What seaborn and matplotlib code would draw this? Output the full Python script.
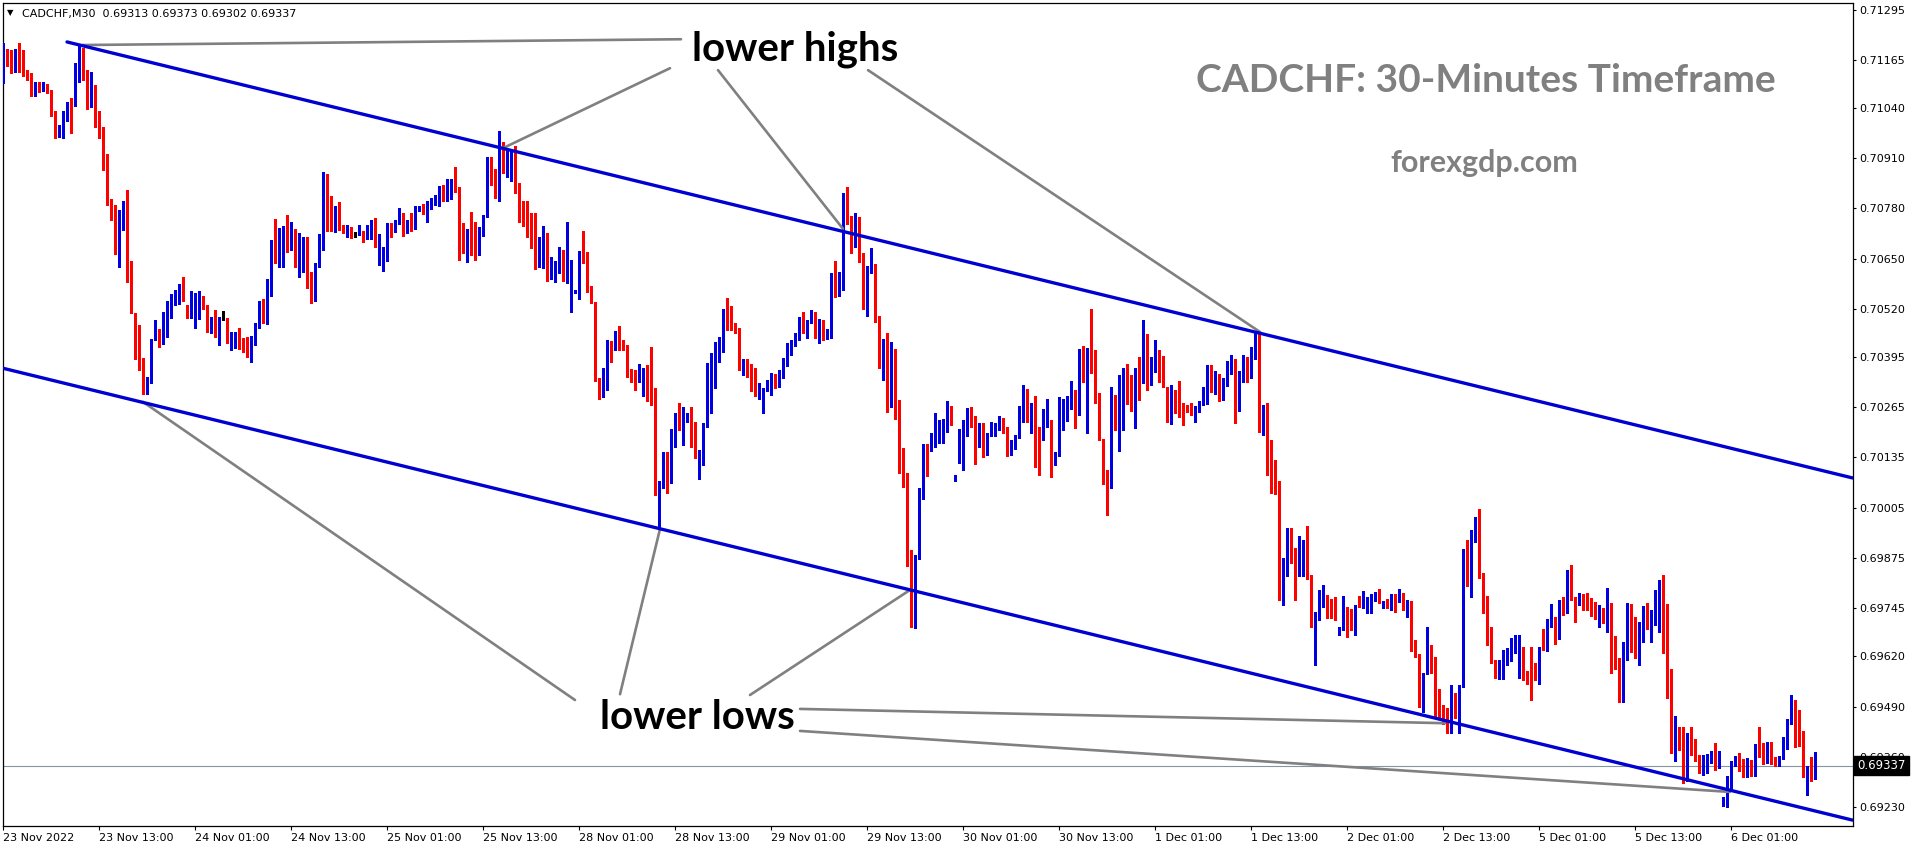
import numpy as np
import pandas as pd
import matplotlib
matplotlib.use("Agg")
import matplotlib.pyplot as plt
import seaborn as sns

# ---------------- data (prices in points = 1e-5 above 0.69000) ----------------
BASE = 0.69
opens = [
 2151,2192,2173,2138,2175,2173,2138,2125,2074,2106, 2090,2096,2084,2028,1966,1987,2019,2056,2048,2118,
 2167,2119,2054,2097,1997,1970,1921,1787,1787,1707, 1770,1780,1610,1508,1433,1392,1301,1338,1441,1465,
 1444,1481,1502,1534,1540,1582,1530,1515,1510,1514, 1541,1527,1470,1496,1448,1493,1496,1420,1420,1450,
 1441,1418,1401,1448,1471,1527,1485,1567,1677,1655, 1677,1727,1672,1714,1640,1645,1698,1582,1545,1631,
 1683,1867,1799,1741,1783,1733,1717,1730,1714,1714, 1720,1702,1704,1719,1655,1619,1672,1739,1733,1741,
 1750,1724,1750,1737,1779,1782,1774,1789,1793,1806, 1838,1810,1835,1841,1835,1724,1683,1724,1717,1659,
 1724,1760,1912,1879,1817,1921,1873,1903,1923,1834, 1778,1759,1743,1685,1629,1697,1714,1608,1623,1627,
 1672,1601,1513,1560,1608,1662,1642,1571,1538,1336, 1293,1310,1435,1418,1450,1429,1424,1349,1344,1334,
 1357,1362,1360,1314,1040,1055,1107,1070,1165,1234, 1215,1232,1245,1193,1133,1131,1213,1325,1340,1426,
 1446,1504,1491,1476,1470,1363,1366,1351,1317,1303, 1280,1310,1312,1349,1340,1349,1374,1413,1435,1446,
 1495,1463,1486,1510,1450,1491,1448,1452,1586,1556, 1577,1815,1741,1731,1739,1664,1521,1627,1636,1491,
 1381,1426,1293,1398,1248,1156,1087,865,710,877, 1033,1163,1154,1165,1202,1204,1211,1268,1080,1127,
 1170,1206,1264,1219,1165,1215,1155,1194,1202,1208, 1221,1211,1142,1168,1185,1262,1288,1251,1267,1211,
 1183,1215,1225,1127,1148,1208,1249,1262,1300,1256, 1381,1369,1405,1381,1284,1182,1075,1061,1297,1232,
 1230,1331,1323,1258,1355,1329,1383,1323,1359,1394, 1351,1318,1232,1297,1294,1271,1267,1262,1241,1256,
 1273,1275,1363,1320,1345,1300,1330,1365,1380,1267, 1340,1380,1350,1400,1450,1200,1270,1110,1072,1064,
 825,837,937,878,835,857,922,826,701,723, 751,775,756,749,689,693,749,727,690,753,
 749,768,739,769,777,762,764,749,779,764, 782,748,764,657,624,499,575,647,602,494,
 483,457,447,503,494,563,844,811,928,963, 825,751,656,607,581,602,605,613,637,634,
 645,582,582,580,567,643,635,699,710,676, 764,753,827,768,762,779,756,751,730,719,
 740,707,759,635,615,516,612,713,671,634, 690,751,695,704,766,811,719,541,412,436,
 427,311,416,388,352,335,342,356,373,343, 233,270,278,345,352,345,309,324,313,391,
 387,345,388,350,345,357,405,448,507,451, 428,322,328,313]
highs = [
 2207,2192,2190,2192,2207,2190,2138,2130,2108,2106, 2108,2102,2087,2031,1996,2031,2056,2065,2157,2203,
 2195,2138,2134,2100,2031,1990,1921,1804,1789,1776, 1798,1828,1645,1510,1478,1392,1344,1441,1491,1467,
 1513,1541,1558,1569,1584,1603,1530,1567,1562,1565, 1553,1530,1498,1517,1498,1515,1496,1461,1461,1470,
 1444,1448,1450,1483,1541,1545,1597,1698,1752,1729, 1735,1763,1744,1726,1716,1707,1707,1616,1638,1714,
 1873,1869,1811,1785,1797,1737,1737,1733,1720,1737, 1722,1737,1750,1756,1714,1681,1741,1741,1750,1782,
 1767,1750,1767,1785,1786,1791,1799,1808,1815,1838, 1841,1855,1855,1886,1836,1743,1726,1771,1746,1731,
 1763,1914,1914,1882,1980,1952,1931,1931,1942,1845, 1800,1799,1769,1767,1707,1735,1716,1655,1645,1679,
 1672,1744,1646,1569,1670,1722,1666,1579,1538,1340, 1366,1439,1437,1463,1476,1439,1426,1363,1362,1377,
 1366,1375,1422,1314,1073,1148,1150,1208,1251,1277, 1265,1249,1267,1228,1154,1224,1379,1405,1435,1448,
 1519,1547,1527,1484,1471,1389,1389,1377,1368,1327, 1314,1336,1353,1351,1362,1392,1432,1439,1458,1498,
 1513,1491,1517,1513,1493,1491,1469,1612,1645,1616, 1819,1835,1760,1769,1757,1665,1631,1677,1636,1501,
 1441,1458,1435,1415,1284,1159,1094,896,883,1055, 1170,1170,1199,1251,1232,1234,1280,1268,1090,1208,
 1232,1262,1267,1243,1224,1225,1199,1228,1225,1243, 1237,1213,1180,1193,1268,1323,1312,1277,1293,1215,
 1260,1286,1232,1150,1291,1286,1294,1334,1310,1415, 1424,1418,1519,1413,1301,1182,1103,1317,1297,1349,
 1366,1377,1349,1366,1396,1491,1455,1394,1438,1413, 1398,1318,1323,1310,1334,1277,1271,1275,1268,1282,
 1318,1375,1375,1360,1350,1340,1385,1400,1390,1360, 1400,1395,1420,1462,1460,1270,1275,1180,1129,1073,
 874,952,952,900,932,922,958,831,736,792, 805,779,768,775,695,777,749,742,753,777,
 789,775,781,788,794,764,768,782,781,794, 783,766,764,663,626,576,695,650,618,535,
 494,486,546,526,546,897,922,947,980,1001, 835,777,695,611,611,637,641,667,676,676,
 645,582,644,604,645,690,716,756,721,766, 773,844,857,775,783,782,785,770,762,753,
 745,798,759,673,615,658,759,756,721,710, 751,757,740,792,818,831,756,587,466,438,
 438,421,438,405,365,365,367,376,397,376, 257,311,350,362,369,354,356,352,393,438,
 397,399,399,359,362,412,457,520,507,481, 428,336,360,373]
lows = [
 2104,2149,2130,2132,2134,2123,2113,2071,2071,2081, 2085,2078,2019,1963,1966,1962,2005,1976,2045,2108,
 2113,2037,2042,1990,1962,1880,1789,1750,1662,1628, 1724,1590,1510,1389,1362,1300,1300,1327,1439,1420,
 1429,1446,1496,1530,1533,1541,1496,1496,1470,1493, 1519,1461,1458,1446,1426,1491,1431,1414,1418,1415,
 1409,1394,1381,1426,1470,1483,1481,1553,1638,1629, 1628,1668,1671,1627,1603,1616,1573,1534,1539,1629,
 1672,1722,1722,1720,1724,1717,1705,1703,1707,1711, 1694,1700,1702,1681,1634,1619,1645,1707,1720,1740,
 1709,1717,1722,1726,1774,1766,1746,1779,1789,1786, 1800,1800,1805,1823,1646,1665,1640,1659,1646,1659,
 1709,1759,1841,1806,1800,1871,1861,1852,1819,1746, 1735,1707,1677,1623,1628,1625,1593,1596,1590,1614,
 1593,1586,1513,1560,1545,1638,1564,1534,1334,1286, 1291,1310,1381,1413,1413,1413,1343,1331,1310,1331,
 1294,1280,1271,1038,952,1055,1042,1068,1163,1206, 1167,1228,1161,1133,1079,1116,1213,1251,1314,1383,
 1409,1465,1465,1457,1362,1349,1344,1306,1293,1286, 1249,1306,1297,1314,1317,1340,1372,1400,1424,1439,
 1457,1444,1484,1444,1432,1439,1441,1444,1550,1553, 1569,1740,1665,1679,1640,1519,1501,1614,1487,1366,
 1336,1254,1267,1234,1094,1058,854,695,693,871, 1027,1087,1153,1163,1172,1172,1202,1219,1075,1122,
 1103,1191,1213,1118,1161,1136,1142,1191,1191,1205, 1199,1139,1142,1156,1185,1228,1228,1198,1111,1090,
 1180,1213,1085,1116,1139,1206,1230,1260,1211,1245, 1331,1198,1355,1277,1180,1066,986,1055,1205,1153,
 1205,1274,1256,1211,1284,1327,1310,1323,1357,1331, 1317,1228,1222,1251,1241,1219,1254,1245,1228,1254,
 1271,1274,1305,1300,1280,1285,1320,1350,1225,1255, 1330,1330,1340,1390,1200,1193,1090,1042,1041,766,
 753,827,861,766,828,828,820,697,598,714, 749,719,719,714,676,689,670,689,676,747,
 745,732,732,764,758,745,745,739,736,762, 739,723,635,618,490,477,575,576,466,460,
 445,421,421,460,421,540,802,775,917,822, 732,650,604,563,561,561,598,609,628,563,
 559,549,506,559,549,637,634,697,652,664, 727,733,766,710,753,740,740,725,716,695,
 707,684,576,587,503,503,611,632,615,598, 656,690,658,701,684,628,512,369,350,378,
 293,298,365,350,317,313,317,345,326,330, 233,231,276,335,324,307,307,310,310,359,
 342,343,342,335,335,354,380,445,386,388, 307,261,298,302]
closes = [
 2192,2173,2138,2175,2173,2125,2122,2074,2106,2090, 2094,2082,2022,1966,1987,2016,2056,2042,2132,2167,
 2114,2054,2095,1993,1968,1916,1789,1779,1707,1772, 1785,1608,1513,1433,1363,1301,1338,1441,1465,1444,
 1481,1502,1534,1540,1582,1569,1515,1533,1514,1543, 1521,1470,1493,1448,1496,1493,1433,1435,1450,1439,
 1412,1401,1448,1470,1527,1485,1569,1677,1651,1677, 1729,1677,1714,1640,1651,1700,1582,1553,1634,1688,
 1871,1795,1741,1783,1730,1720,1730,1716,1714,1722, 1704,1710,1717,1683,1665,1657,1737,1733,1743,1750,
 1726,1747,1735,1780,1782,1774,1791,1795,1808,1836, 1810,1838,1841,1829,1722,1681,1724,1714,1659,1726,
 1760,1911,1875,1815,1925,1873,1903,1927,1830,1776, 1756,1741,1685,1623,1700,1716,1619,1625,1631,1666,
 1599,1688,1553,1569,1670,1640,1569,1536,1336,1293, 1314,1433,1418,1452,1429,1424,1346,1344,1334,1359,
 1362,1355,1308,1040,1058,1110,1068,1167,1236,1215, 1234,1245,1193,1136,1136,1217,1325,1343,1426,1446,
 1507,1489,1474,1470,1363,1366,1353,1316,1306,1317, 1312,1320,1349,1337,1351,1377,1415,1435,1448,1495,
 1458,1488,1507,1450,1489,1450,1458,1586,1558,1577, 1815,1741,1734,1741,1664,1521,1627,1638,1491,1381,
 1426,1293,1398,1237,1159,1085,859,710,880,1035, 1163,1156,1167,1202,1206,1212,1268,1221,1082,1176,
 1208,1260,1215,1165,1217,1159,1196,1202,1211,1217, 1211,1142,1170,1191,1267,1293,1254,1262,1211,1189,
 1215,1228,1127,1148,1211,1251,1267,1300,1254,1381, 1369,1407,1381,1280,1182,1070,1061,1294,1234,1236,
 1329,1317,1258,1349,1331,1491,1312,1394,1396,1353, 1318,1232,1300,1293,1267,1267,1258,1245,1254,1277,
 1281,1363,1320,1345,1300,1330,1365,1380,1267,1340, 1380,1350,1400,1450,1219,1260,1110,1068,1068,818,
 840,934,877,835,861,922,822,699,723,753, 777,753,747,739,692,749,723,690,753,749,
 769,769,769,777,762,764,751,779,766,779, 745,764,654,624,494,575,650,604,494,483,
 457,447,500,494,531,840,811,932,963,825, 749,656,607,583,602,607,618,637,642,647,
 578,559,576,569,645,638,701,706,676,764, 753,827,768,762,779,753,742,727,719,751,
 710,759,632,615,516,618,713,669,634,704, 751,695,706,768,811,630,537,412,434,425,
 311,419,388,352,330,348,356,371,339,347, 257,290,348,350,345,309,324,313,393,385,
 345,388,345,345,360,405,451,500,448,425, 322,328,313,337]

x_tick_labels = ["23 Nov 2022", "23 Nov 13:00", "24 Nov 01:00", "24 Nov 13:00", "25 Nov 01:00",
                 "25 Nov 13:00", "28 Nov 01:00", "28 Nov 13:00", "29 Nov 01:00", "29 Nov 13:00",
                 "30 Nov 01:00", "30 Nov 13:00", "1 Dec 01:00", "1 Dec 13:00", "2 Dec 01:00",
                 "2 Dec 13:00", "5 Dec 01:00", "5 Dec 13:00", "6 Dec 01:00"]
bars_per_label = 24
y_ticks = [0.71295, 0.71165, 0.71040, 0.70910, 0.70780, 0.70650, 0.70520, 0.70395, 0.70265,
           0.70135, 0.70005, 0.69875, 0.69745, 0.69620, 0.69490, 0.69360, 0.69230]
last_price = 0.69337
header = "CADCHF,M30  0.69313 0.69373 0.69302 0.69337"

# channel lines (bar index, price)
upper_channel = [(16.0, 0.71211), (462.4, 0.70082)]
lower_channel = [(-0.75, 0.70368), (462.4, 0.69196)]
# annotation pointer lines (bar index, price)
pointer_lines = {
    "h1": [(19.75, 0.71203), (169.5, 0.71218)],
    "h2": [(125.0, 0.70936), (166.75, 0.71143)],
    "h3": [(178.75, 0.71138), (210.0, 0.70727)],
    "h4": [(216.25, 0.71138), (314.25, 0.70460)],
    "l1": [(35.0, 0.70279), (143.0, 0.69507)],
    "l2": [(154.25, 0.69522), (164.25, 0.69950)],
    "l3": [(186.75, 0.69520), (226.75, 0.69792)],
    "l4": [(199.25, 0.69484), (360.5, 0.69447)],
    "l5": [(199.25, 0.69427), (431.75, 0.69269)],
}

# ---------------- build frame ----------------
df = pd.DataFrame({"o": opens, "h": highs, "l": lows, "c": closes})
df = BASE + df / 1e5
df["i"] = np.arange(len(df))

BULL = "#0000e0"
BEAR = "#ff0000"
DOJI = "#000000"

sns.set_theme(style="white")
plt.rcParams["font.family"] = ["DejaVu Sans"]

W, H = 1916, 850
fig = plt.figure(figsize=(W / 100, H / 100), dpi=100)
fig.patch.set_facecolor("white")
ax = fig.add_axes([2.5 / W, (H - 826) / H, 1850 / W, 823.5 / H])
ax.set_facecolor("white")

xmin = -0.125
ax.set_xlim(xmin, xmin + 1850 / 4)
ymax = 0.71295 + 7 / 38620
ax.set_ylim(ymax - 823.5 / 38620, ymax)

diff = df["c"] - df["o"]
cols = np.where(diff > 0.000005, BULL, np.where(diff < -0.000005, BEAR, DOJI))
top = np.maximum.reduce([df["h"], df["o"], df["c"]])
bot = np.minimum.reduce([df["l"], df["o"], df["c"]])
ax.vlines(df["i"], bot, top, colors=cols, linewidth=0.75, antialiased=False, zorder=3)
body_h = np.maximum(np.abs(diff), 1.0 / 38620)
ax.bar(df["i"], body_h, bottom=np.minimum(df["o"], df["c"]), width=0.74,
       color=cols, linewidth=0, antialiased=False, zorder=4)

# last price line
ax.axhline(last_price, color="#8593a3", linewidth=0.8, zorder=2)

# channel lines via seaborn
chan = pd.DataFrame(
    [(k, x, y) for k, pts in (("upper", upper_channel), ("lower", lower_channel)) for x, y in pts],
    columns=["line", "bar", "price"])
sns.lineplot(data=chan, x="bar", y="price", units="line", estimator=None, color="#0000d0",
             linewidth=2.4, ax=ax, zorder=6, legend=False)
ptr = pd.DataFrame([(k, x, y) for k, pts in pointer_lines.items() for x, y in pts],
                   columns=["seg", "bar", "price"])
sns.lineplot(data=ptr, x="bar", y="price", units="seg", estimator=None, color="#808080",
             linewidth=1.9, ax=ax, zorder=5, legend=False)
ax.set_xlabel("")
ax.set_ylabel("")

# axes styling
for s in ax.spines.values():
    s.set_color("black")
    s.set_linewidth(0.9)
ax.yaxis.tick_right()
ax.set_yticks(y_ticks)
ax.set_yticklabels([f"{v:.5f}" for v in y_ticks])
ax.tick_params(axis="y", direction="out", length=2.5, width=0.8, pad=2.5, labelsize=8,
               colors="black", right=True, left=False)
ax.set_xticks(np.arange(len(x_tick_labels)) * bars_per_label)
ax.set_xticklabels(x_tick_labels, ha="left")
ax.tick_params(axis="x", direction="out", length=3, width=0.8, pad=2, labelsize=8,
               colors="black", bottom=True)
ax.grid(False)

# last price tag
ax.text(1.0026, last_price, "0.69337", transform=ax.get_yaxis_transform(), ha="left",
        va="center", fontsize=8.5, color="white", zorder=20, clip_on=False,
        bbox=dict(boxstyle="square,pad=0.25", facecolor="black", edgecolor="black"))

# header
fig.text(7 / W, 1 - 13 / H, "\u25BC", fontsize=6, color="black", va="center", ha="left")
fig.text(22 / W, 1 - 17 / H, header, fontsize=8, color="black", va="baseline", ha="left")

# annotation texts
bold = dict(family=["Lato", "DejaVu Sans"], weight="bold")
fig.text(1486 / W, 1 - 92 / H, "CADCHF: 30-Minutes Timeframe", fontsize=28, color="#808080",
         ha="center", va="baseline", **bold)
fig.text(1484 / W, 1 - 172 / H, "forexgdp.com", fontsize=22, color="#808080",
         ha="center", va="baseline", **bold)
fig.text(795 / W, 1 - 61 / H, "lower highs", fontsize=29, color="black",
         ha="center", va="baseline", **bold)
fig.text(697 / W, 1 - 729 / H, "lower lows", fontsize=29, color="black",
         ha="center", va="baseline", **bold)

fig.savefig("out.png", dpi=100, facecolor="white")
